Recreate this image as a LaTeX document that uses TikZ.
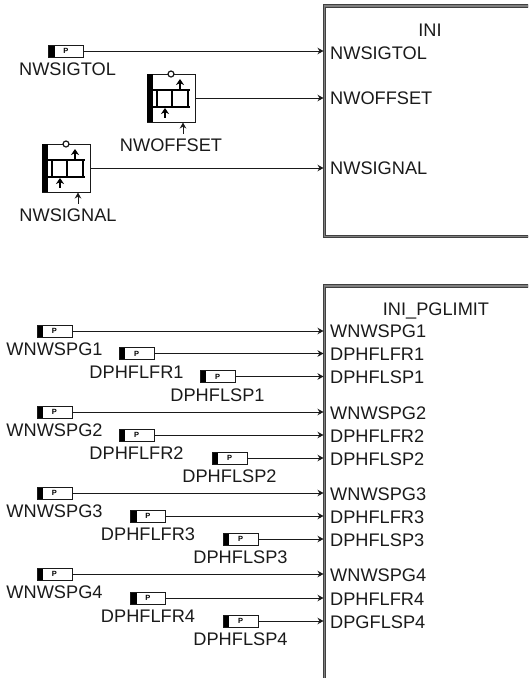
\documentclass[tikz,border=0pt]{standalone}
\usepackage{fontspec}
\setmainfont{Liberation Sans}
\usetikzlibrary{arrows.meta, positioning}
\definecolor{wirecol}{HTML}{1A1A1A}
\definecolor{blockcol}{HTML}{404040}
\definecolor{blockcore}{HTML}{808080}

\tikzset{
  wire/.style={->, wirecol, line width=1pt},
  blockbox/.style={draw=blockcol, line width=0.9pt, double=blockcore, double distance=1.5pt},
  blocktext/.style={font=\fontsize{18.2}{20}\selectfont, text=wirecol, inner sep=0pt, text height=13pt, text depth=0pt},
  portlabel/.style={blocktext, anchor=west},
  taglabel/.style={blocktext, below=5pt of #1},
  tagbox/.style={draw=wirecol, line width=1pt, inner sep=0pt, minimum width=35pt, minimum height=12pt,
    path picture={\fill[black] (path picture bounding box.south west) rectangle ++(6pt,12pt);}},
  tagmark/.style={font=\bfseries\fontsize{7.5}{7.5}\selectfont, inner sep=0pt},
  regbox/.style={draw=wirecol, line width=1pt, inner sep=0pt, minimum size=48pt},
  reghalf/.style={line width=2.6pt, black}
}

% register symbol drawn inside a regbox node
\newcommand{\regparts}[1]{
  \begin{scope}[shift={(#1.center)}]
    \fill[black] (-24,-24) rectangle (-18.5,24);
    \draw[reghalf] (-19,-8) -- (19,-8);
    \draw[reghalf] (-19,9) -- (19,9);
    \foreach \barx in {-14,1,17} {
      \draw[reghalf] (\barx,-8) -- (\barx,9);
    }
    \draw[{Stealth[length=6pt, width=8pt]}-, line width=1.5pt, black] (9,-19) -- (9,-9);
    \draw[{Stealth[length=6pt, width=8pt]}-, line width=1.5pt, black] (-6,10) -- (-6,20);
    \draw[wirecol, line width=1.2pt, fill=white] (0,-24) circle (3pt);
  \end{scope}
}

\begin{document}
\begin{tikzpicture}[x=1pt, y=-1pt, >={Stealth[length=6pt, width=6.5pt]}]

\useasboundingbox (0,0) rectangle (528,678);
\clip (0,0) rectangle (528,678);

% Blocks
\coordinate (iniedge) at (323.5,0);
\draw[blockbox] (324.5,6) rectangle (560,236.5);
\draw[blockbox] (324.5,286) rectangle (560,700);
\node[blocktext] (initext) at (430,30) {INI};
\node[blocktext] (pglimittext) at (436,309) {INI\_PGLIMIT};

% Tags of the first block
\node[tagbox] (nwsigtol) at (66,51) {};
\node[tagmark] (nwsigtolp) at (66,51) {P};
\node[taglabel=nwsigtol, xshift=1.5pt] (nwsigtollabel) {NWSIGTOL};
\node[portlabel] (nwsigtolport) at (330,53) {NWSIGTOL};
\draw[wire] (nwsigtol.east) -- (nwsigtol.east -| iniedge);

% Registers of the first block
\foreach \regname/\regx/\regy/\labelshift/\portname/\porty in {nwoffset/171/98/0/NWOFFSET/98, nwsignal/66/168/2/NWSIGNAL/168} {
  \node[regbox] (\regname) at (\regx,\regy) {};
  \regparts{\regname}
  \coordinate (\regname foot) at ([xshift=12pt]\regname.south);
  \coordinate (\regname tail) at ([yshift=-11pt]\regname foot);
  \draw[->, wirecol, line width=1pt] (\regname tail) -- (\regname foot);
  \node[blocktext, below=16pt of \regname, xshift=\labelshift pt] (\regname label) {\portname};
  \node[portlabel] (\regname port) at (330,\porty) {\portname};
  \draw[wire] (\regname.east) -- (\regname.east -| iniedge);
}

% Tags of the second block
\foreach \tagname/\tagx/\tagy/\portname in {
  a/54.5/331/WNWSPG1, b/136.5/353.5/DPHFLFR1, c/217.5/376.5/DPHFLSP1,
  d/54.5/412/WNWSPG2, e/136.5/435/DPHFLFR2, f/229.5/458/DPHFLSP2,
  g/54.5/493/WNWSPG3, h/148/516/DPHFLFR3, i/240.5/539/DPHFLSP3,
  j/54.5/574/WNWSPG4, k/148/598/DPHFLFR4, l/240.5/621/DPHFLSP4} {
  \node[tagbox] (\tagname) at (\tagx,\tagy) {};
  \node[tagmark] (\tagname p) at (\tagx,\tagy) {P};
  \node[taglabel=\tagname] (\tagname label) {\portname};
  \draw[wire] (\tagname.east) -- (\tagname.east -| iniedge);
}

% Ports of the second block
\foreach \portname/\porty in {
  WNWSPG1/331, DPHFLFR1/354, DPHFLSP1/377,
  WNWSPG2/413, DPHFLFR2/436, DPHFLSP2/459,
  WNWSPG3/494, DPHFLFR3/517, DPHFLSP3/540,
  WNWSPG4/575, DPHFLFR4/599, DPGFLSP4/622} {
  \node[portlabel] (port\portname) at (330,\porty) {\portname};
}

\end{tikzpicture}
\end{document}
